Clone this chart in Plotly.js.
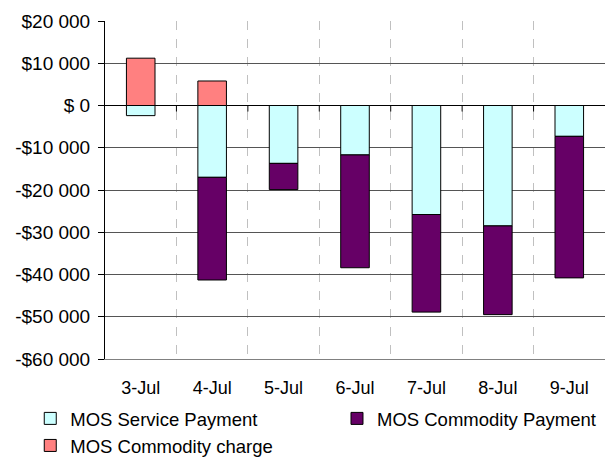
<!DOCTYPE html>
<html>
<head>
<meta charset="utf-8">
<script src="https://cdn.plot.ly/plotly-3.0.1.min.js"></script>
<style>
  html, body { margin: 0; padding: 0; background: #fff; }
  #chart { width: 605px; height: 457px; }
</style>
</head>
<body>
<div id="chart"></div>
<script>
// Data
const days = ['3-Jul', '4-Jul', '5-Jul', '6-Jul', '7-Jul', '8-Jul', '9-Jul'];
const servicePayment = [-2400, -17000, -13700, -11700, -25800, -28500, -7300];
const commodityPayment = [0, -24300, -6200, -26700, -23100, -21000, -33500];
const commodityCharge = [11200, 5800, 0, 0, 0, 0, 0];

const yTicks = [20000, 10000, 0, -10000, -20000, -30000, -40000, -50000, -60000];
const yTickText = ['$20 000', '$10 000', '$ 0', '-$10 000', '-$20 000', '-$30 000', '-$40 000', '-$50 000', '-$60 000'];

const font = 'Liberation Sans, Arial, sans-serif';

function barTrace(name, values, color, legend, group) {
    return {
        type: 'bar',
        name: name,
        x: days,
        y: values,
        legend: legend,
        legendgroup: group,
        marker: {color: color, line: {color: '#000', width: 1}},
        hoverinfo: 'skip'
    };
}

const traces = [
    barTrace('MOS Service Payment', servicePayment, '#ccffff', 'legend', 'a'),
    barTrace('MOS Commodity Payment', commodityPayment, '#660066', 'legend2', 'b'),
    barTrace('MOS Commodity charge', commodityCharge, '#ff8080', 'legend', 'c')
];

// small tick marks on the zero line between categories
const zeroTicks = days.slice(0, -1).map((d, i) => ({
    type: 'line',
    xref: 'x', yref: 'y',
    x0: i + 0.5, x1: i + 0.5,
    ysizemode: 'pixel', yanchor: 0,
    y0: 0, y1: -6,
    line: {color: '#000', width: 1}
}));

const legendFont = {family: font, size: 18.5, color: '#000'};

const layout = {
    width: 605,
    height: 457,
    margin: {l: 105, r: 0, t: 21, b: 98, autoexpand: false},
    paper_bgcolor: '#fff',
    plot_bgcolor: '#fff',
    font: {family: font, size: 17, color: '#000'},
    barmode: 'relative',
    bargap: 0.6,
    showlegend: true,
    legend: {
        orientation: 'v',
        xref: 'container', yref: 'container',
        x: 0.05, y: 0.125,
        xanchor: 'left', yanchor: 'top',
        traceorder: 'grouped',
        tracegroupgap: 0,
        font: legendFont
    },
    legend2: {
        orientation: 'v',
        xref: 'container', yref: 'container',
        x: 0.557, y: 0.125,
        xanchor: 'left', yanchor: 'top',
        font: legendFont
    },
    xaxis: {
        type: 'category',
        tickson: 'boundaries',
        showgrid: true,
        gridcolor: '#c0c0c0',
        griddash: 'dash',
        gridwidth: 1,
        ticks: '',
        ticklabelstandoff: 12,
        showline: true,
        linecolor: '#808080',
        linewidth: 1,
        tickfont: {family: font, size: 18, color: '#000'},
        automargin: false,
        fixedrange: true
    },
    yaxis: {
        range: [-60000, 20000],
        tickvals: yTicks,
        ticktext: yTickText,
        showgrid: true,
        gridcolor: '#555',
        gridwidth: 1,
        zeroline: true,
        zerolinecolor: '#000',
        zerolinewidth: 1,
        showline: true,
        linecolor: '#000',
        linewidth: 1,
        ticks: 'outside',
        ticklen: 6,
        tickcolor: '#000',
        ticklabelstandoff: 4,
        tickfont: {family: font, size: 19, color: '#000'},
        automargin: false,
        fixedrange: true
    },
    shapes: zeroTicks
};

Plotly.newPlot('chart', traces, layout, {displayModeBar: false, staticPlot: true});
</script>
</body>
</html>
